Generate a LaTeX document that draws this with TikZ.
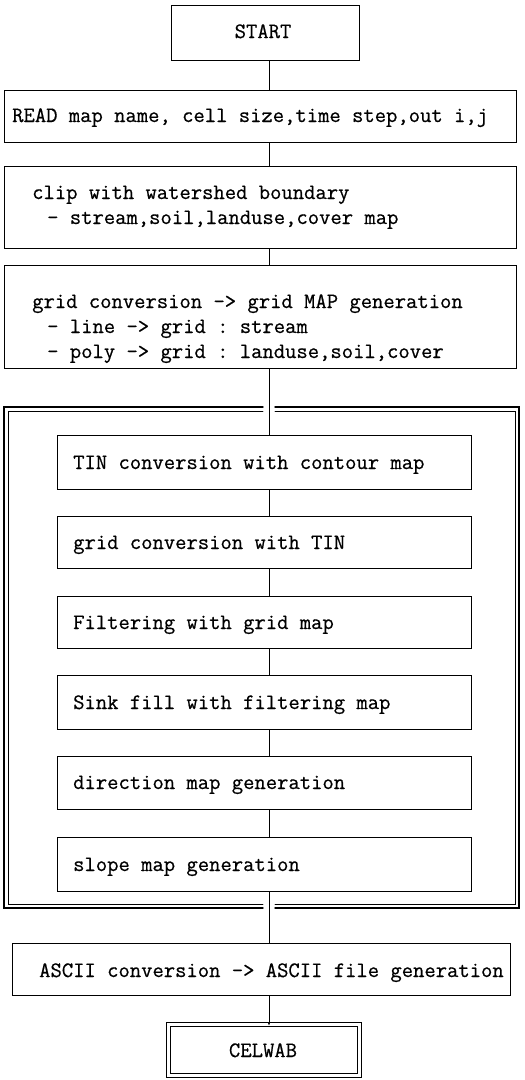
\documentclass[tikz,border=0pt]{standalone}
\usepackage{fontspec}
\setmonofont{Latin Modern Mono}[FakeBold=0.6]
\usetikzlibrary{arrows.meta}
\begin{document}
\begin{tikzpicture}[x=1pt,y=-1pt,
  box/.style={draw=black, line width=0.8pt, inner sep=0pt, anchor=north west},
  txt/.style={anchor=base west, inner sep=0pt, font=\fontsize{22}{25}\selectfont\ttfamily},
  ctxt/.style={txt, anchor=base},
  conn/.style={draw=black, line width=0.8pt},
  frameout/.style={draw=black, line width=1.4pt, line cap=round, line join=miter},
  framein/.style={draw=black, line width=0.8pt, line cap=round, line join=miter}]
\useasboundingbox (0,0) rectangle (525,1080);
\coordinate (cx) at (269,0);

% top boxes
\node[box, minimum width=188, minimum height=55] (start) at (171,5) {};
\node[ctxt] (startT) at (263,38) {START};

\node[box, minimum width=512, minimum height=52] (read) at (4,90) {};
\node[txt] (readT) at (12,122) {READ map name, cell size,time step,out i,j};

\node[box, minimum width=512, minimum height=82] (clip) at (4,166) {};
\node[txt] (clipA) at (32,199) {clip with watershed boundary};
\node[txt] (clipB) at (47,224) {- stream,soil,landuse,cover map};

\node[box, minimum width=512, minimum height=103] (grid) at (4,265) {};
\node[txt] (gridA) at (32,308) {grid conversion -> grid MAP generation};
\node[txt] (gridB) at (47,333) {- line -> grid : stream};
\node[txt] (gridC) at (47,358) {- poly -> grid : landuse,soil,cover};

% frame (double line, opened where the connectors pass)
\draw[frameout] (275,407) -- (519,407) -- (519,908) -- (275,908);
\draw[frameout] (263,908) -- (4,908) -- (4,407) -- (263,407);
\draw[framein] (275,411) -- (515,411) -- (515,904) -- (275,904);
\draw[framein] (263,904) -- (8,904) -- (8,411) -- (263,411);

% inner boxes
\node[box, minimum width=414, minimum height=54] (tin) at (57,435) {};
\node[txt] (tinT) at (73,469) {TIN conversion with contour map};

\node[box, minimum width=414, minimum height=52] (gtin) at (57,516) {};
\node[txt] (gtinT) at (73,549) {grid conversion with TIN};

\node[box, minimum width=414, minimum height=52] (filt) at (57,596) {};
\node[txt] (filtT) at (73,629) {Filtering with grid map};

\node[box, minimum width=414, minimum height=54] (sink) at (57,675) {};
\node[txt] (sinkT) at (73,709) {Sink fill with filtering map};

\node[box, minimum width=414, minimum height=53] (dir) at (57,756) {};
\node[txt] (dirT) at (73,789) {direction map generation};

\node[box, minimum width=414, minimum height=54] (slope) at (57,837) {};
\node[txt] (slopeT) at (73,871) {slope map generation};

% bottom boxes
\node[box, minimum width=498, minimum height=52] (ascii) at (12,943) {};
\node[txt] (asciiT) at (39,977) {ASCII conversion -> ASCII file generation};

\node[box, double, double distance=3pt, minimum width=191, minimum height=51] (cel) at (168,1024) {};
\node[ctxt] (celT) at (263,1057) {CELWAB};

% connectors
\draw[conn] (cx |- start.south) -- (cx |- read.north);
\draw[conn] (cx |- read.south) -- (cx |- clip.north);
\draw[conn] (cx |- clip.south) -- (cx |- grid.north);
\draw[conn] (cx |- grid.south) -- (cx |- tin.north);
\draw[conn] (cx |- tin.south) -- (cx |- gtin.north);
\draw[conn] (cx |- gtin.south) -- (cx |- filt.north);
\draw[conn] (cx |- filt.south) -- (cx |- sink.north);
\draw[conn] (cx |- sink.south) -- (cx |- dir.north);
\draw[conn] (cx |- dir.south) -- (cx |- slope.north);
\draw[conn] (cx |- slope.south) -- (cx |- ascii.north);
\draw[conn, -{Latex[length=4pt,width=3pt]}] (cx |- ascii.south) -- ([yshift=-2pt]cx |- cel.north);
\end{tikzpicture}
\end{document}
